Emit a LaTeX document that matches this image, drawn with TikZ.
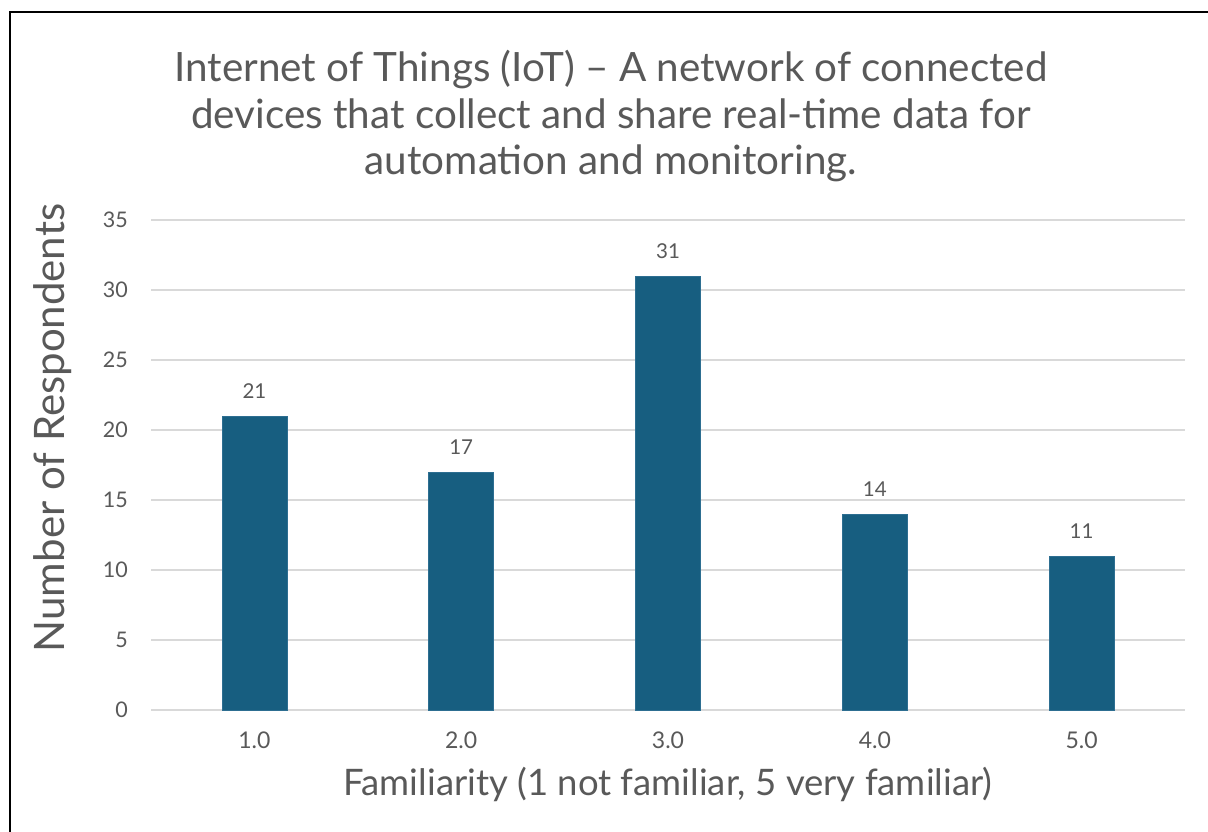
\documentclass[tikz,border=0pt]{standalone}
\usepackage{fontspec}
\setmainfont{Lato}
\definecolor{barblue}{RGB}{23,94,128}
\definecolor{baredge}{RGB}{45,110,145}
\definecolor{gridgray}{RGB}{217,217,217}
\definecolor{txtgray}{RGB}{89,89,89}
\tikzset{
  titletext/.style={anchor=base, inner sep=0pt, text=txtgray, font=\fontsize{40.4}{47}\selectfont},
  xaxistitle/.style={anchor=base, inner sep=0pt, text=txtgray, font=\fontsize{36.5}{42}\selectfont},
  yaxistitle/.style={anchor=base, inner sep=0pt, text=txtgray, font=\fontsize{42}{48}\selectfont},
  ytick/.style={anchor=east, inner sep=0pt, text=txtgray, font=\fontsize{21.5}{25}\selectfont},
  xtick/.style={anchor=base, inner sep=0pt, text=txtgray, font=\fontsize{23}{27}\selectfont},
  datalabel/.style={anchor=center, inner sep=0pt, text=txtgray, font=\fontsize{20.5}{24}\selectfont},
  gridline/.style={draw=gridgray, line width=1.5pt},
  bar/.style={fill=barblue, draw=baredge, line width=0.8pt},
}
\begin{document}
\begin{tikzpicture}[x=1pt,y=-1pt]
\useasboundingbox (0,0) rectangle (1208,832);
\fill[white] (0,0) rectangle (1208,832);
% frame
\draw[black, line width=2pt] (10,1000) -- (10,12) -- (1300,12);
% title
\node[titletext] (t1) at (611,82) {Internet of Things (IoT) – A network of connected};
\node[titletext] (t2) at (611,129) {devices that collect and share real-time data for};
\node[titletext] (t3) at (611,175) {automation and monitoring.};
% grid
\foreach \v/\n in {0/g0,5/g5,10/g10,15/g15,20/g20,25/g25,30/g30,35/g35}{
  \draw[gridline] (151,710-14*\v) -- (1185,710-14*\v);
  \node[ytick] (\n) at (128,710-14*\v) {\v};
}
% bars
\foreach \i/\v in {1/21,2/17,3/31,4/14,5/11}{
  \pgfmathsetmacro{\c}{151+206.8*(\i-0.5)}
  \draw[bar] (\c-32.5,710) rectangle (\c+32.5,710-14*\v);
  \node[datalabel] (d\i) at (\c,710-14*\v-24.5) {\v};
  \node[xtick] (x\i) at (\c,748.5) {\i.0};
}
% axis titles
\node[yaxistitle, rotate=90] (ylab) at (64,428) {Number of Respondents};
\node[xaxistitle] (xlab) at (668,795) {Familiarity (1 not familiar, 5 very familiar)};
\end{tikzpicture}
\end{document}
